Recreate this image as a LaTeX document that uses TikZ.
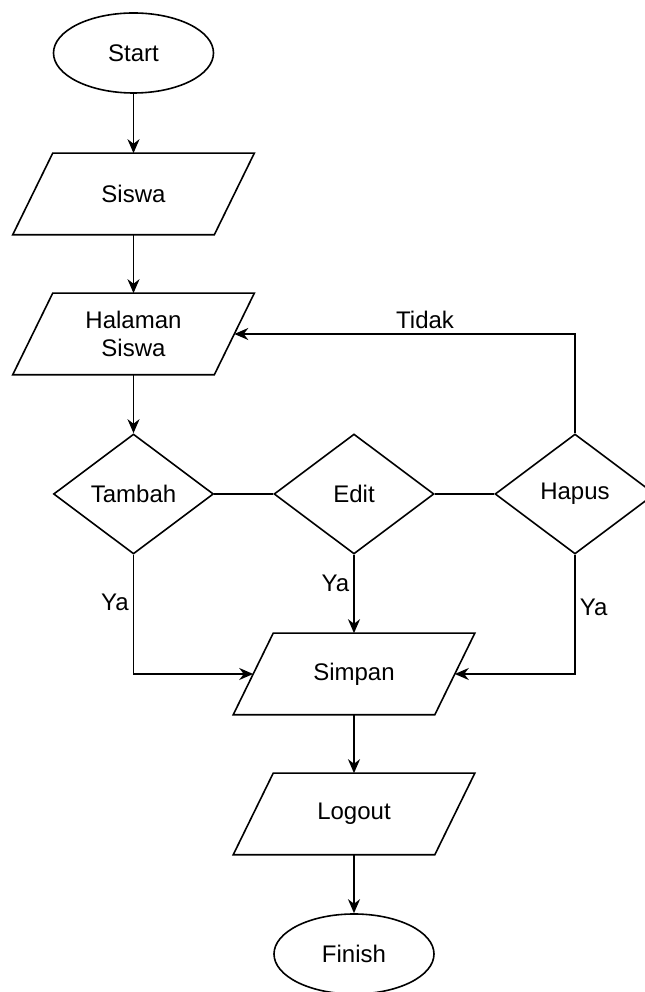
\documentclass[tikz,border=0pt]{standalone}
\usepackage{fontspec}
\setmainfont{Liberation Sans}
\usepackage{tikz}
\usetikzlibrary{positioning, shapes.geometric, arrows.meta}

% jajaran genjang untuk input/output
\newcommand{\iobox}[1]{%
  \draw ([xshift=-10pt]#1.south west) -- ([xshift=10pt]#1.north west)
    -- ([xshift=10pt]#1.north east) -- ([xshift=-10pt]#1.south east) -- cycle;}

\begin{document}
\begin{tikzpicture}[
    x=0.5pt, y=0.5pt,
    terminal/.style={ellipse, draw, minimum width=80pt, minimum height=40pt, inner sep=0pt},
    io/.style={rectangle, minimum width=100pt, minimum height=40pt, inner sep=0pt, align=center},
    decision/.style={diamond, draw, minimum width=80pt, minimum height=60pt, inner sep=0pt},
    label/.style={inner sep=2pt},
    line width=0.8pt,
    >={Stealth[length=7pt, width=6pt]},
    font=\fontsize{12}{14}\selectfont
]
\useasboundingbox (0,0) rectangle (644,992);

% start dan input
\node[terminal] (start) at (133.5,939) {Start};
\node[io] (siswa) at (133.5,798) {Siswa};
\node[io] (halaman) at (133.5,658) {Halaman\\Siswa};

% pilihan
\node[decision] (tambah) at (133.5,498) {Tambah};
\node[decision] (edit) at (354,498) {Edit};
\node[decision] (hapus) at (575,498) {Hapus};

% simpan sampai selesai
\node[io] (simpan) at (354,318) {Simpan};
\node[io] (logout) at (354,178) {Logout};
\node[terminal] (finish) at (354,38) {Finish};

\iobox{siswa}
\iobox{halaman}
\iobox{simpan}
\iobox{logout}

% alur utama
\draw[->] (start) -- (siswa);
\draw[->] (siswa) -- (halaman);
\draw[->] (halaman) -- (tambah);
\draw (tambah) -- (edit);
\draw (edit) -- (hapus);

% cabang ya / tidak
\draw[->] (tambah.south) |- node[label, pos=0.2, left] {Ya} (simpan);
\draw[->] (edit) -- node[label, pos=0.36, left] {Ya} (simpan);
\draw[->] (hapus.south) |- node[label, pos=0.22, right] {Ya} (simpan);
\draw[->] (hapus.north) |- node[label, pos=0.72, above] {Tidak} (halaman);

\draw[->] (simpan) -- (logout);
\draw[->] (logout) -- (finish);

\end{tikzpicture}
\end{document}
